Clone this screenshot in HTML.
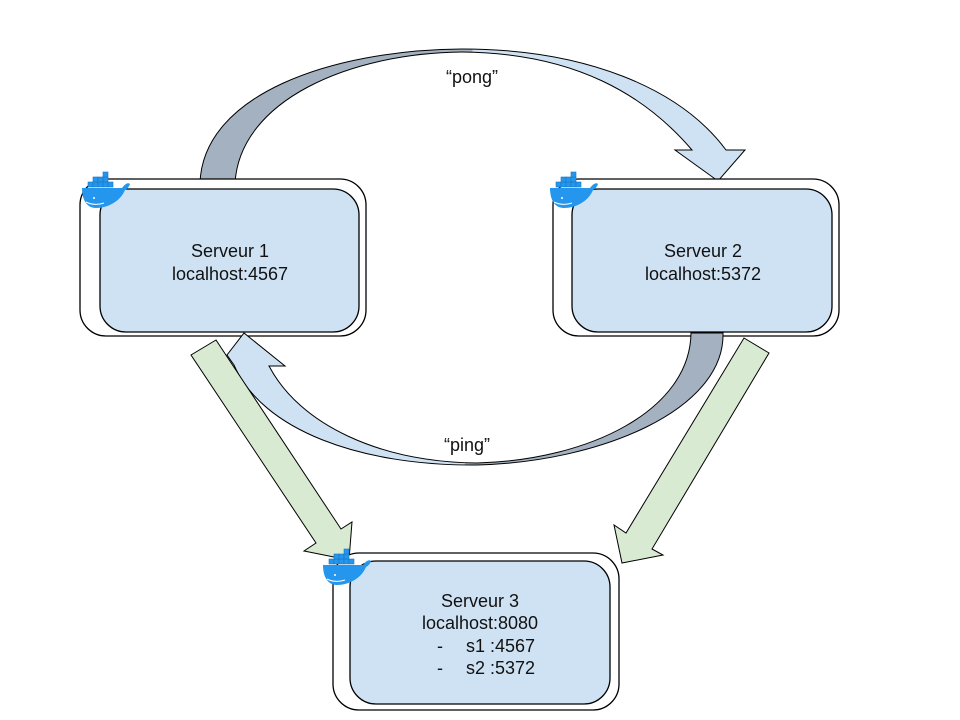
<!DOCTYPE html>
<html><head><meta charset="utf-8"><style>
html,body{margin:0;padding:0;background:#fff;}
svg{display:block;}
text{font-family:"Liberation Sans",Arial,sans-serif;font-size:18px;fill:#111;}
</style></head><body>
<svg width="960" height="720" viewBox="0 0 960 720" xmlns="http://www.w3.org/2000/svg">
<defs>
<linearGradient id="g1" x1="0" y1="0" x2="1" y2="0">
<stop offset="0" stop-color="#a3b1c0"/><stop offset="0.5" stop-color="#a3b1c0"/><stop offset="0.5" stop-color="#cfe2f3"/><stop offset="1" stop-color="#cfe2f3"/>
</linearGradient>
<linearGradient id="g2" x1="0" y1="0" x2="1" y2="0">
<stop offset="0" stop-color="#cfe2f3"/><stop offset="0.48" stop-color="#cfe2f3"/><stop offset="0.48" stop-color="#a3b1c0"/><stop offset="1" stop-color="#a3b1c0"/>
</linearGradient>
<g id="whale">
<path d="M0,14 L40,14 C43,10 46,8 48,10 C47,13 45,15 43,16 C38,28 25,34 14,34 C5,34 0,26 0,14 Z" fill="#2496ed"/>
<g fill="#2496ed" stroke="#1a78c2" stroke-width="0.6">
<rect x="6" y="8" width="5" height="5"/><rect x="11" y="8" width="5" height="5"/><rect x="16" y="8" width="5" height="5"/><rect x="21" y="8" width="5" height="5"/><rect x="26" y="8" width="5" height="5"/>
<rect x="11" y="3" width="5" height="5"/><rect x="16" y="3" width="5" height="5"/><rect x="21" y="3" width="5" height="5"/>
<rect x="21" y="-2" width="5" height="5"/>
</g>
<circle cx="12" cy="24" r="1" fill="#fff"/>
<path d="M4,28 C10,31 16,31 22,29" stroke="#fff" stroke-width="1" fill="none"/>
</g>
</defs>

<path d="M200,183 C203,95 330,50 462,49 C585,49 680,88 726,150 L745,150 L718,181 L675,150 L692,150 C645,95 575,53 462,52 C350,53 240,100 235,183 Z" fill="url(#g1)" stroke="#000" stroke-width="1"/>

<rect x="80" y="179" width="286" height="157" rx="26" fill="#fff" stroke="#000" stroke-width="1.3"/>
<rect x="100" y="189" width="259" height="143" rx="26" fill="#cfe2f3" stroke="#000" stroke-width="1.3"/>
<rect x="553" y="179" width="286" height="157" rx="26" fill="#fff" stroke="#000" stroke-width="1.3"/>
<rect x="572" y="189" width="260" height="143" rx="26" fill="#cfe2f3" stroke="#000" stroke-width="1.3"/>

<path d="M723,333 C725,410 600,462 477,465 C360,466 262,430 234,365 L227,355 L244,333 L285,366 L269,366 C300,425 380,462 477,463 C590,460 690,410 691,333 Z" fill="url(#g2)" stroke="#000" stroke-width="1"/>

<path d="M216,340 L341,529 L352,522 L349,560 L304,551 L316,543 L191,355 Z" fill="#d9ead3" stroke="#000" stroke-width="1"/>
<path d="M744,338 L769,353 L652,549 L663,555 L622,563 L614,525 L626,533 Z" fill="#d9ead3" stroke="#000" stroke-width="1"/>

<rect x="333" y="553" width="286" height="157" rx="26" fill="#fff" stroke="#000" stroke-width="1.3"/>
<rect x="350" y="561" width="260" height="143" rx="26" fill="#cfe2f3" stroke="#000" stroke-width="1.3"/>

<use href="#whale" x="82" y="174"/>
<use href="#whale" x="550" y="174"/>
<use href="#whale" x="323" y="551"/>

<text x="230" y="257" text-anchor="middle">Serveur 1</text>
<text x="230" y="280" text-anchor="middle">localhost:4567</text>
<text x="703" y="257" text-anchor="middle">Serveur 2</text>
<text x="703" y="280" text-anchor="middle">localhost:5372</text>
<text x="480" y="607" text-anchor="middle">Serveur 3</text>
<text x="480" y="629" text-anchor="middle">localhost:8080</text>
<text x="437" y="652">-</text><text x="466" y="652">s1 :4567</text>
<text x="437" y="674">-</text><text x="466" y="674">s2 :5372</text>
<text x="472" y="83" text-anchor="middle">“pong”</text>
<text x="467" y="451" text-anchor="middle">“ping”</text>
</svg>
</body></html>
